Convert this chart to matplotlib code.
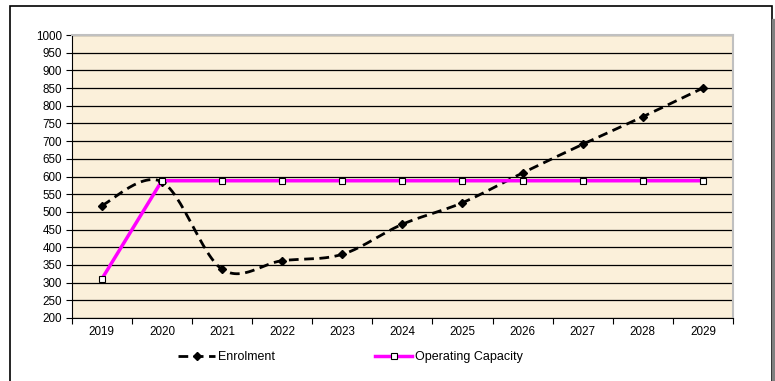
import numpy as np
import matplotlib.pyplot as plt
from matplotlib.patches import Rectangle
from matplotlib.lines import Line2D

years = ["2019", "2020", "2021", "2022", "2023", "2024", "2025", "2026", "2027", "2028", "2029"]
enrolment = [518, 585, 338, 362, 380, 465, 526, 610, 691, 769, 850]
capacity = [310, 588, 588, 588, 588, 588, 588, 588, 588, 588, 588]

plt.rcParams["font.family"] = ["Liberation Sans", "DejaVu Sans"]


def smooth(xs, ys, n=30):
    """Excel-style smoothed line: cubic Bezier segments through every point."""
    px = np.asarray(xs, float)
    py = np.asarray(ys, float)
    ex = np.concatenate([[px[0]], px, [px[-1]]])
    ey = np.concatenate([[py[0]], py, [py[-1]]])
    outx, outy = [], []
    t = np.linspace(0, 1, n)
    for i in range(len(px) - 1):
        p0 = np.array([px[i], py[i]])
        p3 = np.array([px[i + 1], py[i + 1]])
        p1 = p0 + (np.array([ex[i + 2], ey[i + 2]]) - np.array([ex[i], ey[i]])) / 6
        p2 = p3 - (np.array([ex[i + 3], ey[i + 3]]) - np.array([ex[i + 1], ey[i + 1]])) / 6
        b = ((1 - t) ** 3)[:, None] * p0 + (3 * (1 - t) ** 2 * t)[:, None] * p1 \
            + (3 * (1 - t) * t ** 2)[:, None] * p2 + (t ** 3)[:, None] * p3
        outx.extend(b[:, 0])
        outy.extend(b[:, 1])
    return outx, outy


fig = plt.figure(figsize=(7.75, 3.81), dpi=100)
fig.patches.append(Rectangle((10 / 775, -0.05), 762 / 775, 1 - 6 / 381 + 0.05,
                             transform=fig.transFigure, fill=False,
                             edgecolor="black", linewidth=1.2))
fig.patches.append(Rectangle((772 / 775, -0.05), 1.5 / 775, 1.0,
                             transform=fig.transFigure, color="#808080"))

ax = fig.add_axes([71.7 / 775, 1 - 318 / 381, 661.3 / 775, 283 / 381])
ax.set_facecolor("#fbf0da")
x = np.arange(len(years))
ax.set_xlim(-0.5, len(years) - 0.5)
ax.set_ylim(200, 1000)
ax.set_yticks(range(200, 1001, 50))
ax.yaxis.grid(True, color="black", linewidth=0.9)
ax.set_axisbelow(True)

ax.set_xticks(np.arange(-0.5, len(years), 1))
ax.set_xticklabels([])
ax.set_xticks(x, minor=True)
ax.set_xticklabels(years, minor=True)
ax.tick_params(axis="x", which="minor", length=0, pad=6, labelsize=8.4)
ax.tick_params(axis="x", which="major", length=4, color="black")
ax.tick_params(axis="y", length=4, labelsize=8.4, pad=3)

for side in ("top", "right"):
    ax.spines[side].set_color("#c0c0c0")
    ax.spines[side].set_linewidth(1.5)
ax.spines["left"].set_color("black")
ax.spines["bottom"].set_color("black")

sx, sy = smooth(x, enrolment)
ax.plot(sx, sy, color="black", linewidth=2, dashes=(3.5, 2), zorder=3)
ax.plot(x, enrolment, linestyle="none", marker="D", markersize=4,
        color="black", zorder=4)
ax.plot(x, capacity, color="#ff00ff", linewidth=2.5, marker="s", markersize=5,
        markerfacecolor="white", markeredgecolor="black", markeredgewidth=0.8,
        zorder=5)

h1 = Line2D([], [], color="black", linewidth=2, dashes=(3.5, 2),
            marker="D", markersize=4)
h2 = Line2D([], [], color="#ff00ff", linewidth=2.5, marker="s", markersize=4,
            markerfacecolor="white", markeredgecolor="black", markeredgewidth=0.8)
fig.legend([h1, h2], ["Enrolment", "Operating Capacity"], loc="center left",
           bbox_to_anchor=(178 / 775, 1 - 357 / 381), ncol=2, frameon=False,
           borderpad=0, borderaxespad=0,
           fontsize=9, handlelength=2.96, handletextpad=0.24, columnspacing=8.0)

fig.savefig("out.png", dpi=100)
